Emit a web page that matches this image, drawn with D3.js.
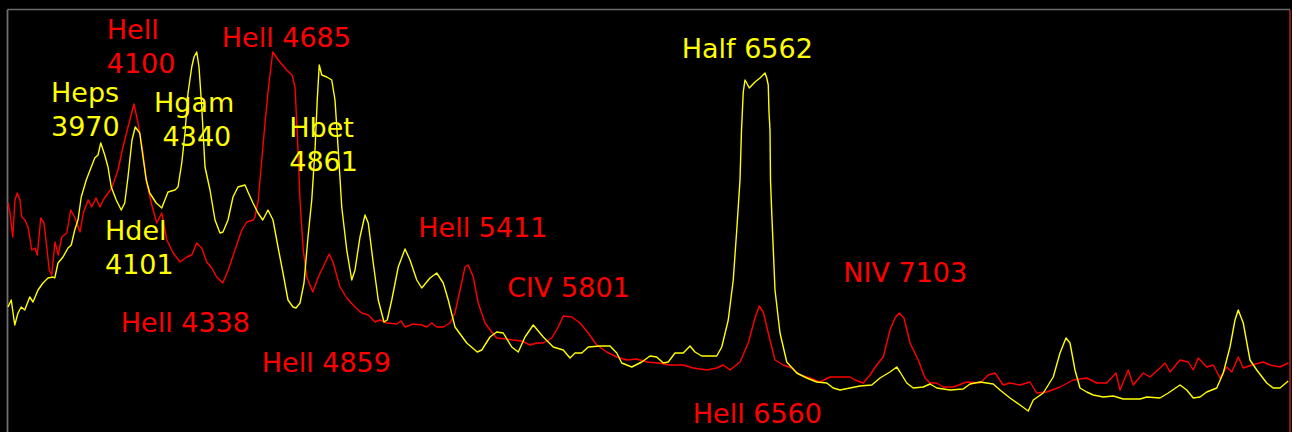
<!DOCTYPE html>
<html>
<head>
<meta charset="utf-8">
<script src="https://cdn.jsdelivr.net/npm/d3@7"></script>
<style>
  html, body { margin: 0; padding: 0; background: #000; }
  svg { display: block; }
  text { font-family: "DejaVu Sans", sans-serif; white-space: pre; }
</style>
</head>
<body>
<svg id="chart" width="1292" height="432"></svg>
<script>
// ---- Data (wavelength in Å, relative flux) ----
const waveYellow = [3602,3615,3629,3642,3655,3669,3689,3702,3722,3742,3762,3782,3789,3802,3822,3842,3855,3869,3882,3895,3915,3935,3949,3962,3973,3989,4002,4015,4035,4055,4069,4082,4098,4111,4129,4142,4155,4169,4195,4217,4242,4270,4282,4297,4310,4322,4337,4346,4357,4366,4377,4390,4410,4430,4450,4462,4482,4502,4522,4550,4562,4582,4602,4621,4642,4662,4682,4702,4722,4742,4754,4770,4786,4802,4817,4830,4839,4847,4857,4877,4897,4910,4923,4937,4957,4977,4990,5010,5030,5043,5063,5083,5106,5119,5137,5163,5190,5210,5237,5257,5290,5317,5343,5363,5390,5437,5479,5497,5530,5557,5583,5617,5643,5670,5703,5743,5783,5823,5850,5870,5897,5923,5970,6010,6037,6057,6097,6137,6170,6197,6223,6243,6270,6303,6330,6350,6377,6437,6457,6483,6503,6517,6530,6536,6543,6550,6557,6567,6590,6610,6630,6637,6643,6646,6650,6652,6657,6670,6690,6717,6757,6797,6837,6877,6903,6930,6970,7010,7057,7090,7130,7157,7170,7197,7223,7263,7290,7317,7370,7423,7450,7490,7543,7570,7610,7650,7683,7703,7743,7783,7810,7834,7850,7870,7890,7917,7943,7983,8023,8063,8130,8157,8210,8243,8290,8317,8343,8370,8397,8437,8463,8490,8510,8523,8543,8570,8597,8637,8663,8690,8723];
const fluxYellow = [28.25,30,23.75,26.75,28.25,27.5,30.75,29.5,32.5,34.25,35.5,35.75,35.5,39.25,40.75,43,43.75,47.5,50,55.75,60,63.25,65.5,66.25,69.25,66.25,63.25,58.25,55,52.5,54.25,60.75,70,73.25,71.75,65.75,60,56.75,54.25,53,57,57.5,58.25,64.25,71.75,81.75,88.25,90.75,92,88.25,78.25,63.25,57.5,50,46.75,47,50,55.75,58.25,58.75,57,54.25,51.75,50,52.5,50,43.25,36.75,30,28.25,28,29.25,34.25,45.75,55,67.5,80,88.75,86.25,85.75,85,80,67.5,53.25,42.5,35,37.5,45.75,51.25,49.25,39.25,30,24.5,25,30,38.25,42.75,40,35,33,35.5,36.75,34.25,30,23.25,19.25,17,17.5,20.75,22,21.75,18.25,17,20.75,23.75,20.75,18.25,17.5,15.5,16.75,16.75,18.25,18.5,18.5,16.75,14.25,13.25,14.5,16,15.75,14.25,14.5,16.75,16.75,18.5,17,16,16,18.25,25,35,47.5,60,72.5,82,85,84.25,83,84.5,85.5,86.75,85.5,83.75,77,72.5,60,51.75,32.5,21.75,14.5,11.75,10.5,9.5,9.25,8,7.5,8,8.5,8.75,10.5,12,13.25,12,9.25,8,8.25,9,8,7.5,7.75,9,9.5,9,7.5,5.5,3.75,2.25,5,6.75,10.75,16.75,20.5,19.25,12.5,8,7,6.25,5.75,6,5.25,5.25,5.75,5.5,6.75,8.75,7.5,5.5,5.75,7,8,11.75,18.25,25,27.5,24.25,15,12.5,9.25,8,8,9.75];

const waveRed = [3602,3610,3621,3630,3639,3650,3657,3670,3683,3697,3710,3719,3733,3746,3757,3767,3777,3790,3803,3817,3837,3853,3870,3890,3903,3923,3937,3954,3970,3983,3997,4017,4042,4062,4082,4106,4122,4142,4155,4175,4197,4217,4237,4263,4290,4317,4337,4357,4377,4397,4417,4437,4461,4483,4510,4537,4557,4583,4590,4603,4610,4630,4643,4661,4683,4717,4738,4750,4759,4770,4783,4797,4821,4843,4870,4887,4903,4930,4957,4990,5017,5043,5070,5090,5117,5157,5174,5190,5223,5257,5277,5297,5317,5343,5370,5390,5410,5430,5443,5463,5483,5510,5537,5557,5597,5623,5657,5690,5717,5743,5777,5803,5823,5857,5890,5923,5957,5997,6037,6077,6117,6157,6203,6250,6303,6343,6397,6437,6463,6490,6530,6563,6590,6607,6623,6643,6670,6703,6737,6770,6810,6850,6890,6930,6970,6990,7023,7050,7077,7103,7130,7150,7167,7186,7210,7243,7270,7290,7317,7343,7383,7437,7490,7523,7550,7583,7610,7650,7690,7717,7757,7810,7863,7917,7957,7997,8034,8050,8083,8103,8143,8170,8210,8230,8250,8290,8323,8343,8363,8397,8423,8450,8477,8497,8523,8543,8577,8623,8650,8690,8723];
const fluxRed = [54.25,51.75,45.75,55,56.75,55,50.75,50,48,42.5,43,41.25,50.5,49.25,43.25,37.5,36.25,44.5,41.25,45.75,46.75,52.5,50.5,47,51.75,55,53.25,55.5,53.25,55,56.25,58,62.5,68.25,73.25,79,74.25,66.75,60,54.25,49.25,51.75,45,41.75,39.5,40.75,41.25,44.25,43,39.5,38,35.75,34.25,37.5,42.5,47.5,49.5,50,50.75,55,60,74.25,82.5,92,90,87.5,86.25,83.25,71.75,55,42.5,35.75,32,35.75,39.25,41.5,39.25,33.25,30.5,28.25,26.75,26.25,24.5,25,24.25,24,24.75,23.25,24,23.75,23.25,24.25,23.25,23.25,24.25,26.75,32.5,38.25,38.75,35.75,29.25,24.25,22,20.5,20.25,20,19.75,18.75,19.25,19.25,20.5,23.25,26,25.75,24.25,21.75,18.75,17,15.75,15,15.25,14.5,14.25,13.75,13.75,13,12.5,13,13.75,12.5,14.5,19.25,25.5,28.5,27,21.75,15,13.75,13,11.25,10.5,9.5,10.75,10.75,10.75,10,9.25,11.25,13.75,15.75,22.5,25.5,26.75,25.5,19.25,15,10.5,9.25,9.25,8.25,8.25,9.5,9.25,11.25,11.75,8.75,9.25,8.75,9.5,6.75,7,8.25,10,10.5,9.25,9.25,11.75,7.5,12.5,8.75,11.75,10.75,13,14.25,12,15,14.5,12.5,15.5,13.25,13.75,10.5,13.25,12,15.75,13,13.75,14.5,13.75,13.25,14.25];

// line labels
const labelText  = [["Hell","4100"],["Hell 4685"],["Heps","3970"],["Hgam"," 4340"],["Hbet","4861"],["Hdel","4101"],["Hell 4338"],["Hell 4859"],["Hell 5411"],["CIV 5801"],["Half 6562"],["Hell 6560"],["NIV 7103"]];
const labelSeries = ["red","red","yellow","yellow","yellow","yellow","red","red","red","red","yellow","red","red"];
const labelWave  = [3997,4457,3774,4186,4727,3990,4053,4617,5243,5599,6297,6341,6943];
const labelFlux  = [95.2,93.3,79.5,77.1,70.8,45,22.1,12.1,45.7,30.8,90.4,-0.7,34.6];

// ---- Drawing ----
const W = 1292, H = 432;
const colors = { red: "#ff0000", yellow: "#ffff00" };
const svg = d3.select("#chart");
svg.append("rect").attr("width", W).attr("height", H).attr("fill", "#000");

const x = d3.scaleLinear().domain([3602, 8726]).range([8, 1289]);
const y = d3.scaleLinear().domain([0, 100]).range([420, 20]);

// frame
svg.append("line").attr("x1", 7.5).attr("x2", 1290).attr("y1", 9.5).attr("y2", 9.5)
  .attr("stroke", "#6e6e6e").attr("stroke-width", 1.6);
svg.append("line").attr("x1", 7.5).attr("x2", 7.5).attr("y1", 9.5).attr("y2", H)
  .attr("stroke", "#6e6e6e").attr("stroke-width", 1.8);
svg.append("line").attr("x1", 1290).attr("x2", 1290).attr("y1", 10).attr("y2", H)
  .attr("stroke", "#a82020").attr("stroke-width", 1.6);

const line = d3.line().x(d => x(d[0])).y(d => y(d[1]));
const redData = waveRed.map((w, i) => [w, fluxRed[i]]);
const yellowData = waveYellow.map((w, i) => [w, fluxYellow[i]]);

svg.append("path").datum(redData).attr("d", line)
  .attr("fill", "none").attr("stroke", colors.red).attr("stroke-width", 1.4).attr("stroke-linejoin", "round");
svg.append("path").datum(yellowData).attr("d", line)
  .attr("fill", "none").attr("stroke", colors.yellow).attr("stroke-width", 1.4).attr("stroke-linejoin", "round");

// labels
const lab = svg.append("g");
labelText.forEach((lines, i) => {
  const t = lab.append("text")
    .attr("x", x(labelWave[i])).attr("y", y(labelFlux[i]))
    .attr("fill", colors[labelSeries[i]])
    .attr("font-size", 27);
  lines.forEach((s, j) => {
    t.append("tspan").attr("x", x(labelWave[i])).attr("dy", j === 0 ? 0 : "1.27em").text(s);
  });
});
</script>
</body>
</html>
